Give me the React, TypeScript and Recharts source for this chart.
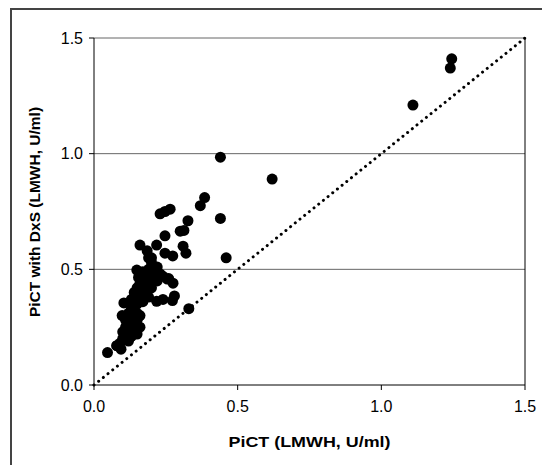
import { ScatterChart, Scatter, XAxis, YAxis, CartesianGrid, ReferenceLine, Label } from 'recharts'

// PiCT without DxS (x) vs PiCT with DxS (y), LMWH U/ml
const pictX = [
  1.24, 1.245, 1.11, 0.62, 0.44, 0.44, 0.46, 0.33, 0.385, 0.37,
  0.327, 0.30, 0.313, 0.31, 0.32, 0.265, 0.247, 0.23, 0.247, 0.218,
  0.247, 0.274, 0.16, 0.185, 0.20, 0.149, 0.26, 0.275, 0.218, 0.24,
  0.28, 0.273, 0.104, 0.098, 0.047, 0.079, 0.094, 0.255,
  0.10, 0.11, 0.12, 0.11, 0.13, 0.12, 0.14, 0.13, 0.15, 0.14,
  0.12, 0.15, 0.14, 0.16, 0.15, 0.13, 0.16, 0.14, 0.16, 0.15,
  0.17, 0.16, 0.18, 0.17, 0.19, 0.18, 0.20, 0.19, 0.21, 0.20,
  0.22, 0.21, 0.19, 0.22, 0.17, 0.13, 0.11, 0.09, 0.10, 0.12,
  0.15, 0.18, 0.20, 0.23, 0.16, 0.14, 0.12, 0.08, 0.155, 0.175,
  0.19, 0.24
]
const pictDxS = [
  1.37, 1.41, 1.21, 0.89, 0.985, 0.72, 0.55, 0.33, 0.81, 0.775,
  0.71, 0.665, 0.668, 0.60, 0.57, 0.76, 0.75, 0.74, 0.645, 0.605,
  0.57, 0.558, 0.605, 0.58, 0.55, 0.497, 0.46, 0.44, 0.362, 0.37,
  0.385, 0.365, 0.355, 0.30, 0.14, 0.17, 0.155, 0.458,
  0.20, 0.22, 0.19, 0.25, 0.21, 0.27, 0.23, 0.29, 0.22, 0.26,
  0.31, 0.28, 0.32, 0.25, 0.35, 0.37, 0.30, 0.40, 0.38, 0.42,
  0.36, 0.44, 0.40, 0.45, 0.42, 0.48, 0.46, 0.50, 0.49, 0.53,
  0.51, 0.47, 0.55, 0.45, 0.49, 0.33, 0.28, 0.18, 0.23, 0.24,
  0.31, 0.44, 0.42, 0.48, 0.41, 0.36, 0.20, 0.17, 0.465, 0.39,
  0.38, 0.47
]
const axisTicks = [0, 0.5, 1.0, 1.5]
const identityLine = [{ x: 0, y: 0 }, { x: 1.5, y: 1.5 }]

const points = pictX.map((x, i) => ({ x, y: pictDxS[i] }))

const font = '"Liberation Sans", Arial, sans-serif'

const Dot = (props: any) => <circle cx={props.cx} cy={props.cy} r={5.5} fill="#000" />

export default function App() {
  return (
    <div style={{ position: 'absolute', left: 0, top: 0, width: 542, height: 465, background: '#fff', overflow: 'hidden' }}>
      <div
        style={{
          position: 'absolute', left: 10, top: 8, width: 600, height: 600,
          borderLeft: '2px solid #444', borderTop: '2px solid #444'
        }}
      />
      <ScatterChart
        width={542}
        height={465}
        margin={{ top: 38, right: 17, bottom: 50, left: 54 }}
        style={{ position: 'absolute', left: 0, top: 0, fontFamily: font }}
      >
        <CartesianGrid vertical={false} stroke="#666" horizontalValues={[0.5, 1.0, 1.5]} />
        <XAxis
          type="number"
          dataKey="x"
          domain={[0, 1.5]}
          ticks={axisTicks}
          tickFormatter={(v: number) => v.toFixed(1)}
          stroke="#000"
          tickSize={5}
          tickMargin={11}
          height={30}
          tick={{ fill: '#000', fontSize: 16 }}
        >
          <Label
            content={({ viewBox }: any) => (
              <text
                x={viewBox.x + viewBox.width / 2}
                y={447}
                textAnchor="middle"
                fontWeight="bold"
                fontSize={15.5}
                fill="#000"
                textLength={162}
                lengthAdjust="spacingAndGlyphs"
              >
                PiCT (LMWH, U/ml)
              </text>
            )}
          />
        </XAxis>
        <YAxis
          type="number"
          dataKey="y"
          domain={[0, 1.5]}
          ticks={axisTicks}
          tickFormatter={(v: number) => v.toFixed(1)}
          stroke="#000"
          tickSize={5}
          tickMargin={6}
          width={40}
          tick={{ fill: '#000', fontSize: 16 }}
        >
          <Label
            content={() => (
              <text x={40} y={212} transform="rotate(-90 40 212)" textAnchor="middle" fontWeight="bold" fontSize={15.5} fill="#000">
                PiCT with DxS (LMWH, U/ml)
              </text>
            )}
          />
        </YAxis>
        <ReferenceLine x={1.5} stroke="#000" />
        <ReferenceLine
          segment={identityLine}
          stroke="#000"
          strokeWidth={3}
          strokeDasharray="0.01 6"
          strokeLinecap="round"
        />
        <Scatter data={points} shape={Dot} isAnimationActive={false} />
      </ScatterChart>
    </div>
  )
}
